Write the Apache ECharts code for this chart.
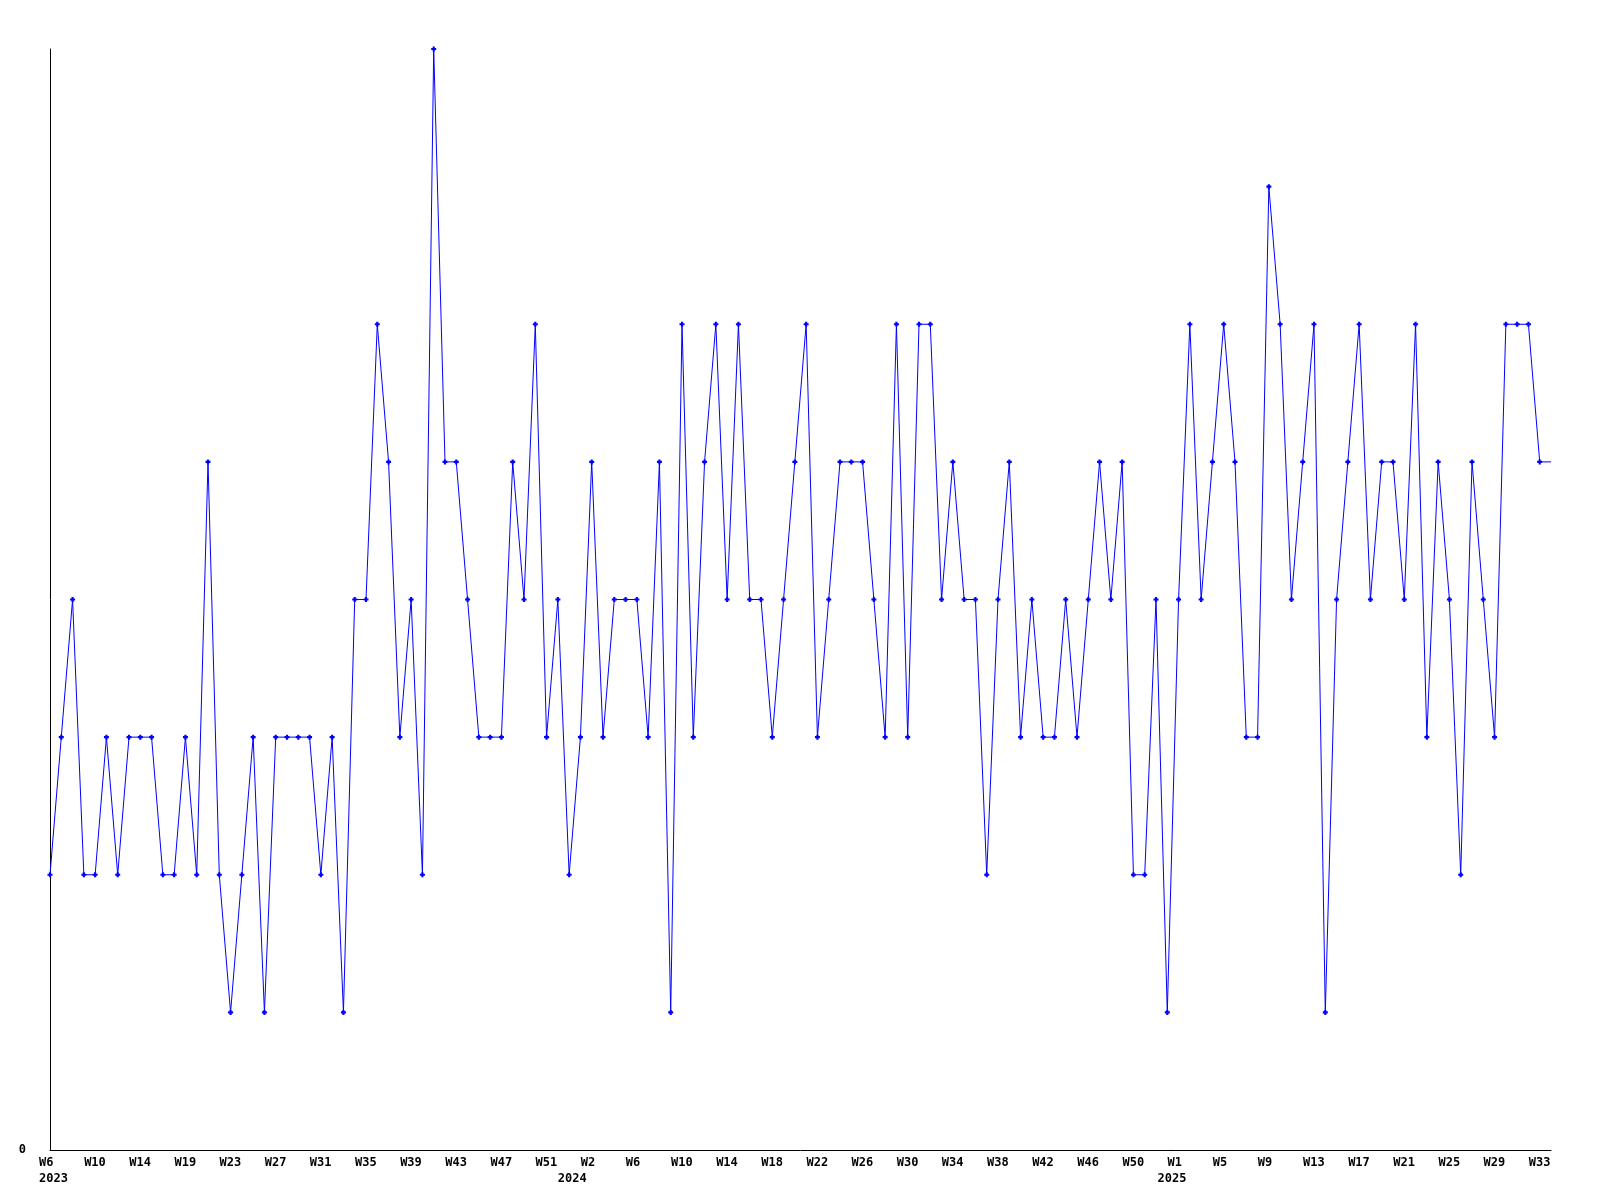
<!DOCTYPE html>
<html>
<head>
<meta charset="utf-8">
<script src="https://cdn.jsdelivr.net/npm/echarts@6/dist/echarts.min.js"></script>
<style>
  html, body { margin: 0; padding: 0; background: #fff; }
  #chart { width: 1600px; height: 1200px; }
</style>
</head>
<body>
<div id="chart"></div>
<script>
// Weekly categories (2023 W6 .. 2025 W34)
const categories = [
  '2023-W06','2023-W07','2023-W08','2023-W09','2023-W10','2023-W11','2023-W12','2023-W13','2023-W14','2023-W15',
  '2023-W16','2023-W17','2023-W18','2023-W19','2023-W20','2023-W21','2023-W22','2023-W23','2023-W24','2023-W25',
  '2023-W26','2023-W27','2023-W28','2023-W29','2023-W30','2023-W31','2023-W32','2023-W33','2023-W34','2023-W35',
  '2023-W36','2023-W37','2023-W38','2023-W39','2023-W40','2023-W41','2023-W42','2023-W43','2023-W44','2023-W45',
  '2023-W46','2023-W47','2023-W48','2023-W49','2023-W50','2023-W51','2023-W52','2024-W01','2024-W02','2024-W03',
  '2024-W04','2024-W05','2024-W06','2024-W07','2024-W08','2024-W09','2024-W10','2024-W11','2024-W12','2024-W13',
  '2024-W14','2024-W15','2024-W16','2024-W17','2024-W18','2024-W19','2024-W20','2024-W21','2024-W22','2024-W23',
  '2024-W24','2024-W25','2024-W26','2024-W27','2024-W28','2024-W29','2024-W30','2024-W31','2024-W32','2024-W33',
  '2024-W34','2024-W35','2024-W36','2024-W37','2024-W38','2024-W39','2024-W40','2024-W41','2024-W42','2024-W43',
  '2024-W44','2024-W45','2024-W46','2024-W47','2024-W48','2024-W49','2024-W50','2024-W51','2024-W52','2025-W01',
  '2025-W02','2025-W03','2025-W04','2025-W05','2025-W06','2025-W07','2025-W08','2025-W09','2025-W10','2025-W11',
  '2025-W12','2025-W13','2025-W14','2025-W15','2025-W16','2025-W17','2025-W18','2025-W19','2025-W20','2025-W21',
  '2025-W22','2025-W23','2025-W24','2025-W25','2025-W26','2025-W27','2025-W28','2025-W29','2025-W30','2025-W31',
  '2025-W32','2025-W33','2025-W34','2025-W35'
];

// Series values, one per week
const values = [
  2,3,4,2,2,3,2,3,3,3,2,2,3,2,5,2,1,2,3,1,3,3,3,
  3,2,3,1,4,4,6,5,3,4,2,8,5,5,4,3,3,3,5,4,6,3,4,
  2,3,5,3,4,4,4,3,5,1,6,3,5,6,4,6,4,4,3,4,5,6,3,
  4,5,5,5,4,3,6,3,6,6,4,5,4,4,2,4,5,3,4,3,3,4,3,
  4,5,4,5,2,2,4,1,4,6,4,5,6,5,3,3,7,6,4,5,6,1,4,
  5,6,4,5,5,4,6,3,5,4,2,5,4,3,6,6,6,5,5
];

// Tick labels shown on every 4th category
const tickLabels = [
  'W6','W10','W14','W19','W23','W27','W31','W35','W39','W43','W47','W51',
  'W2','W6','W10','W14','W18','W22','W26','W30','W34','W38','W42','W46','W50',
  'W1','W5','W9','W13','W17','W21','W25','W29','W33'
];
// Year sub-labels (index into tickLabels -> year)
const yearLabelAt = { 0: '2023', 12: '2024', 25: '2025' };

const FONT = 'DejaVu Sans Mono';
const baseRich = { fontFamily: FONT, fontWeight: 'bold', fontSize: 12, color: '#000', lineHeight: 16, align: 'left' };
function rs(w, padLeft) { return Object.assign({}, baseRich, { width: w, padding: [0, 0, 0, padLeft] }); }
// Each label block is centred on its tick; widths + left padding place the text
const rich = {
  wk: rs(22, 0),
  wk2023: rs(29, 7),   y2023: rs(29, 7),
  wk2024: rs(45, 23),  y2024: rs(68, 0),
  wk2025: rs(32, 10),  y2025: rs(42, 0)
};

const plusPath = 'path://M2,0L5,0L5,2L7,2L7,5L5,5L5,7L2,7L2,5L0,5L0,2L2,2Z';

const seriesData = values.map((v, i) =>
  i === values.length - 1 ? { value: v, symbol: 'none' } : v
);

const chart = echarts.init(document.getElementById('chart'), null, { renderer: 'canvas' });
chart.setOption({
  animation: false,
  backgroundColor: '#fff',
  grid: { left: 50, right: 49, top: 49, bottom: 50, containLabel: false },
  xAxis: {
    type: 'category',
    boundaryGap: false,
    data: categories,
    axisLine: { show: true, lineStyle: { color: '#000', width: 1 } },
    axisTick: { show: false },
    splitLine: { show: false },
    axisLabel: {
      interval: function (idx) { return idx % 4 === 0; },
      hideOverlap: false,
      margin: 5,
      color: '#000',
      fontFamily: FONT,
      fontWeight: 'bold',
      fontSize: 12,
      lineHeight: 16,
      align: 'center',
      formatter: function (val, idx) {
        if (idx % 4 !== 0) return '';
        const k = idx / 4;
        const t = tickLabels[k];
        if (t === undefined) return '';
        const y = yearLabelAt[k];
        return y ? '{wk' + y + '|' + t + '}\n{y' + y + '|' + y + '}' : '{wk|' + t + '}';
      },
      rich: rich
    }
  },
  yAxis: {
    type: 'value',
    min: 0,
    max: 8,
    interval: 8,
    axisLine: { show: true, lineStyle: { color: '#000', width: 1 } },
    axisTick: { show: false },
    splitLine: { show: false },
    axisLabel: {
      margin: 24,
      color: '#000',
      fontFamily: FONT,
      fontWeight: 'bold',
      fontSize: 12,
      showMaxLabel: false,
      formatter: function (v) { return v === 0 ? '0' : ''; }
    }
  },
  series: [{
    type: 'line',
    data: seriesData,
    showSymbol: true,
    showAllSymbol: true,
    symbol: plusPath,
    symbolSize: 5,
    itemStyle: { color: '#0000ff' },
    lineStyle: { color: '#0000ff', width: 1 },
    emphasis: { disabled: true }
  }]
});
</script>
</body>
</html>
